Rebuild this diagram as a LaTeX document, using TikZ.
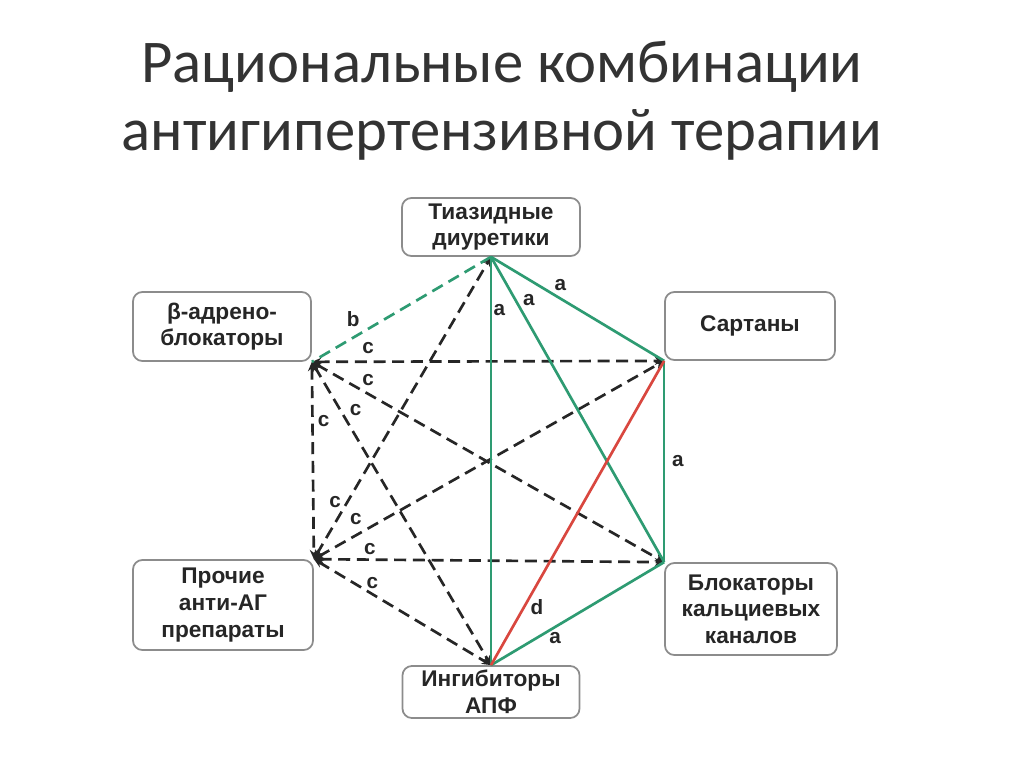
\documentclass[tikz,border=0pt]{standalone}
\usepackage{fontspec}
\setmainfont{Liberation Sans}
\newfontfamily\titlefont{Carlito}
\usetikzlibrary{arrows.meta}

\definecolor{combgreen}{HTML}{2E9B72}
\definecolor{combred}{HTML}{D9473F}
\definecolor{boxgray}{HTML}{8C8C8C}

\tikzset{
    drugbox/.style={draw=boxgray, line width=1.3pt, rounded corners=7pt, fill=white,
        align=center, inner sep=0pt, text=black!85,
        font=\bfseries\fontsize{17}{20}\selectfont},
    lbl/.style={font=\bfseries\fontsize{15.5}{17}\selectfont, text=black!85, inner sep=2pt},
    good/.style={combgreen, line width=2pt},
    maybe/.style={combgreen, line width=2pt, dash pattern=on 9pt off 5pt},
    poss/.style={black!85, line width=2pt, dash pattern=on 9pt off 5pt,
        {Stealth[length=7pt, width=6pt]}-{Stealth[length=7pt, width=6pt]}},
    bad/.style={combred, line width=2pt}
}

\begin{document}
\begin{tikzpicture}[x=0.75pt, y=-0.75pt]
    \fill[white] (0,0) rectangle (1024,767);
    \useasboundingbox (0,0) rectangle (1024,767);

    \node[font=\titlefont\fontsize{45.5}{51}\selectfont, text=black!80, align=center] (title) at (502,101)
        {Рациональные комбинации\\антигипертензивной терапии};

    \node[drugbox, minimum width=133.5pt, minimum height=43.5pt] (thiaz) at (491,227) {Тиазидные\\диуретики};
    \node[drugbox, minimum width=133.5pt, minimum height=51.75pt] (beta) at (222,326.5) {β-адрено-\\блокаторы};
    \node[drugbox, minimum width=127.5pt, minimum height=51pt] (sart) at (750,326) {Сартаны};
    \node[drugbox, minimum width=135pt, minimum height=67.5pt] (other) at (223,605) {Прочие\\анти-АГ\\препараты};
    \node[drugbox, minimum width=129pt, minimum height=69pt] (calc) at (751,609) {Блокаторы\\кальциевых\\каналов};
    \node[drugbox, minimum width=132.75pt, minimum height=39pt] (acei) at (491,692) {Ингибиторы\\АПФ};

    \draw[poss] (beta.south east) -- (sart.south west) node[lbl, pos=0.16, above=3pt] {c};
    \draw[poss] (beta.south east) -- (calc.north west) node[lbl, pos=0.16, above=3pt] {c};
    \draw[poss] (beta.south east) -- (acei.north) node[lbl, pos=0.16, right=4pt] {c};
    \draw[poss] (beta.south east) -- (other.north east) node[lbl, pos=0.3, right=1pt] {c};
    \draw[poss] (other.north east) -- (thiaz.south) node[lbl, pos=0.19, left=2pt] {c};
    \draw[poss] (other.north east) -- (sart.south west) node[lbl, pos=0.12, above=5pt] {c};
    \draw[poss] (other.north east) -- (calc.north west) node[lbl, pos=0.16, above=1pt] {c};
    \draw[poss] (other.north east) -- (acei.north) node[lbl, pos=0.29, above right=-2pt] {c};

    \draw[maybe] (thiaz.south) -- (beta.south east) node[lbl, pos=0.77, above=5pt] {b};

    \draw[good] (thiaz.south) -- (sart.south west) node[lbl, pos=0.4, above=3pt] {a};
    \draw[good] (thiaz.south) -- (calc.north west) node[lbl, pos=0.17, above right=-1pt] {a};
    \draw[good] (thiaz.south) -- (acei.north) node[lbl, pos=0.13, right=-1pt] {a};
    \draw[good] (sart.south west) -- (calc.north west) node[lbl, midway, right=3pt] {a};
    \draw[good] (calc.north west) -- (acei.north) node[lbl, pos=0.63, below=1pt] {a};

    \draw[bad] (sart.south west) -- (acei.north) node[lbl, pos=0.81, right=2pt] {d};
\end{tikzpicture}
\end{document}
